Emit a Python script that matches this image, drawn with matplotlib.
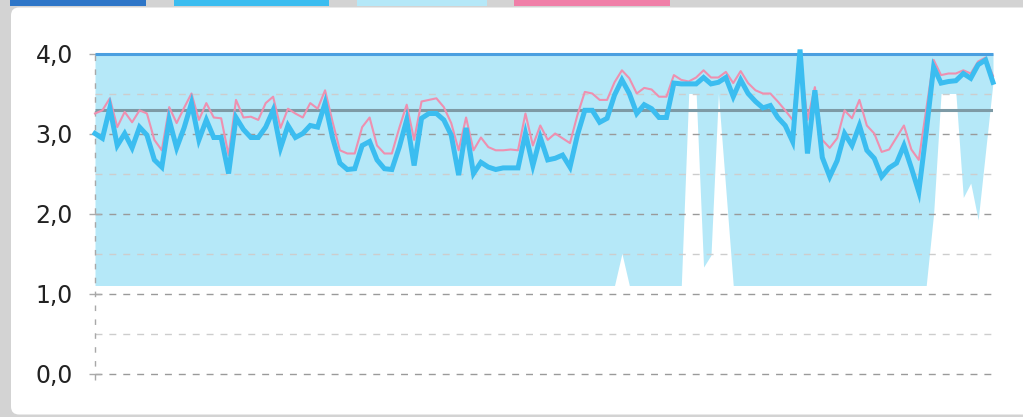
import matplotlib
matplotlib.use("Agg")
import matplotlib.pyplot as plt
from matplotlib.patches import FancyBboxPatch, Rectangle
import numpy as np

# ---------------- data ----------------
blue_values = [
    3.0, 2.94, 3.32, 2.85, 3.0, 2.82, 3.08, 2.98, 2.67, 2.58, 3.17, 2.82, 3.07, 3.38, 2.92, 3.17, 2.95, 2.95, 2.5, 3.2,
    3.05, 2.95, 2.95, 3.08, 3.29, 2.82, 3.1, 2.95, 3.0, 3.1, 3.08, 3.38, 2.95, 2.63, 2.55, 2.56, 2.85, 2.9, 2.67, 2.56,
    2.55, 2.83, 3.17, 2.6, 3.19, 3.25, 3.25, 3.17, 2.98, 2.48, 3.07, 2.5, 2.64, 2.58, 2.55, 2.57, 2.57, 2.57, 3.0, 2.6, 2.95,
    2.67, 2.69, 2.73, 2.58, 2.98, 3.29, 3.29, 3.14, 3.19, 3.48, 3.67, 3.5, 3.25, 3.36, 3.31, 3.2, 3.2, 3.63, 3.62, 3.62,
    3.62, 3.7, 3.62, 3.64, 3.7, 3.46, 3.67, 3.5, 3.4, 3.32, 3.35, 3.2, 3.1, 2.9, 4.05, 2.75, 3.54, 2.7, 2.46, 2.66,
    3.0, 2.85, 3.1, 2.79, 2.69, 2.46, 2.57, 2.63, 2.85, 2.57, 2.27, 3.02, 3.83, 3.63, 3.65, 3.66, 3.75, 3.69, 3.86, 3.92, 3.64,
]
pink_values = [
    3.25, 3.29, 3.44, 3.08, 3.27, 3.14, 3.29, 3.25, 2.92, 2.79, 3.33, 3.13, 3.32, 3.5, 3.17, 3.38, 3.2, 3.19, 2.73, 3.42,
    3.2, 3.21, 3.17, 3.38, 3.46, 3.07, 3.31, 3.25, 3.2, 3.38, 3.31, 3.54, 3.15, 2.79, 2.75, 2.75, 3.08, 3.2, 2.85, 2.75,
    2.75, 3.07, 3.36, 2.92, 3.4, 3.42, 3.44, 3.33, 3.13, 2.79, 3.2, 2.79, 2.95, 2.83, 2.79, 2.79, 2.8, 2.79, 3.25, 2.85, 3.1,
    2.92, 3.0, 2.94, 2.88, 3.23, 3.52, 3.5, 3.42, 3.42, 3.64, 3.79, 3.69, 3.5, 3.57, 3.55, 3.46, 3.46, 3.73, 3.67, 3.65,
    3.7, 3.79, 3.7, 3.7, 3.77, 3.63, 3.78, 3.63, 3.54, 3.5, 3.5, 3.4, 3.29, 3.17, 3.98, 3.17, 3.58, 2.92, 2.82, 2.94,
    3.29, 3.19, 3.42, 3.1, 3.0, 2.77, 2.8, 2.95, 3.1, 2.8, 2.67, 3.3, 3.92, 3.73, 3.75, 3.75, 3.79, 3.75, 3.9, 3.95, 3.72,
]
band_low = [
    1.1, 1.1, 1.1, 1.1, 1.1, 1.1, 1.1, 1.1, 1.1, 1.1, 1.1, 1.1, 1.1, 1.1, 1.1, 1.1, 1.1, 1.1, 1.1, 1.1,
    1.1, 1.1, 1.1, 1.1, 1.1, 1.1, 1.1, 1.1, 1.1, 1.1, 1.1, 1.1, 1.1, 1.1, 1.1, 1.1, 1.1, 1.1, 1.1, 1.1,
    1.1, 1.1, 1.1, 1.1, 1.1, 1.1, 1.1, 1.1, 1.1, 1.1, 1.1, 1.1, 1.1, 1.1, 1.1, 1.1, 1.1, 1.1, 1.1, 1.1, 1.1,
    1.1, 1.1, 1.1, 1.1, 1.1, 1.1, 1.1, 1.1, 1.1, 1.1, 1.5, 1.1, 1.1, 1.1, 1.1, 1.1, 1.1, 1.1, 1.1, 3.5,
    3.5, 1.33, 1.48, 3.5, 2.3, 1.1, 1.1, 1.1, 1.1, 1.1, 1.1, 1.1, 1.1, 1.1, 1.1, 1.1, 1.1, 1.1, 1.1, 1.1,
    1.1, 1.1, 1.1, 1.1, 1.1, 1.1, 1.1, 1.1, 1.1, 1.1, 1.1, 1.1, 2.0, 3.5, 3.5, 3.5, 2.2, 2.38, 1.92, 2.78, 3.64,
]
band_high = 4.0
target_value = 3.3
y_ticks = [0, 1, 2, 3, 4]
y_tick_labels = ["0,0", "1,0", "2,0", "3,0", "4,0"]
legend_colors = ["#2e76c8", "#3bbdf0", "#b5e8f8", "#f07fa8"]

# ---------------- figure ----------------
W, H = 1023, 417
fig = plt.figure(figsize=(W / 100, H / 100), dpi=100, facecolor="#d3d3d3")

bg = fig.add_axes([0, 0, 1, 1])
bg.set_xlim(0, W)
bg.set_ylim(H, 0)
bg.axis("off")
bg.add_patch(FancyBboxPatch((11, 7.5), W + 20, 407, boxstyle="round,pad=0,rounding_size=8",
                            facecolor="white", edgecolor="none"))
swatch_spans = [(10, 136), (174, 155), (357, 130), (514, 156)]
for (x0, w), c in zip(swatch_spans, legend_colors):
    bg.add_patch(Rectangle((x0, 0), w, 6, facecolor=c, edgecolor="none"))

ax = fig.add_axes([95 / W, (H - 373.5) / H, (993 - 95) / W, 320 / H])
ax.patch.set_alpha(0)
n = len(blue_values)
x = np.arange(n)
ax.set_xlim(0, n - 1)
ax.set_ylim(0, 4)

ax.fill_between(x, band_low, band_high, color="#b5e8f8", lw=0, zorder=1)

for v in [0, 1, 2, 3]:
    ax.axhline(v, color="#9a9a9a", lw=1, ls=(0, (5, 5)), zorder=1.5, clip_on=False)
for v in [0.5, 1.5, 2.5, 3.5]:
    ax.axhline(v, color="#cdcdcd", lw=1, ls=(0, (5, 5)), zorder=1.5, clip_on=False)
ax.plot([0, 0], [-0.08, 4], color="#a8a8a8", lw=1, ls=(0, (4, 6)), clip_on=False, zorder=1.6)

ax.hlines(target_value, x[0], x[-1], color="#7e9aa5", lw=2.2, zorder=3)
ax.hlines(band_high, x[0], x[-1], color="#4a9fe0", lw=2.2, zorder=3, clip_on=False)
ax.plot(x, pink_values, color="#ee90b0", lw=1.5, zorder=4, clip_on=False)
ax.plot(x, blue_values, color="#3bbdf0", lw=3.6, zorder=5, clip_on=False, solid_joinstyle="miter")

for s in ax.spines.values():
    s.set_visible(False)
ax.set_xticks([])
ax.set_yticks(y_ticks)
ax.set_yticklabels(y_tick_labels)
ax.tick_params(axis="y", direction="inout", length=8, width=1, color="#aaaaaa",
               labelsize=17, labelcolor="#222222", pad=12)

fig.savefig("out.png", dpi=100, facecolor=fig.get_facecolor())
